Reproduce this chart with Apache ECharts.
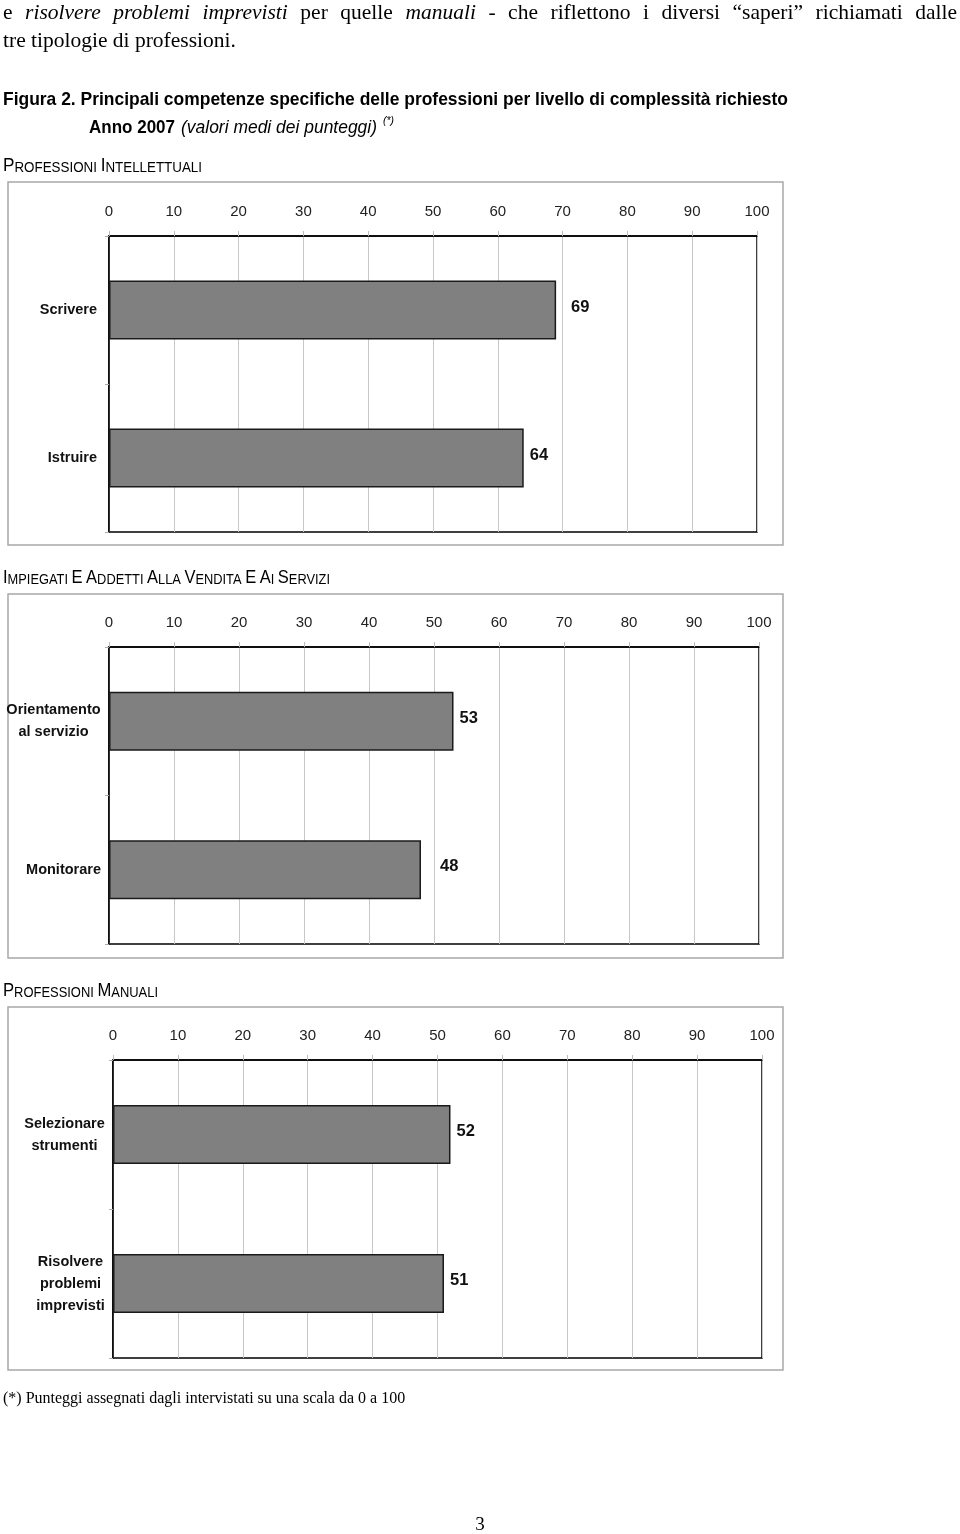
<!DOCTYPE html>
<html>
<head>
<meta charset="utf-8">
<script src="https://cdn.jsdelivr.net/npm/echarts@6/dist/echarts.min.js"></script>
<style>html,body{margin:0;padding:0;background:#fff}#c{width:960px;height:1534px}</style>
</head>
<body>
<div id="c"></div>
<script>
// ---- data ----
const cats1 = ['Scrivere', 'Istruire'];
const vals1 = [69, 64];
const cats2 = ['Orientamento\nal servizio', 'Monitorare'];
const vals2 = [53, 48];
const cats3 = ['Selezionare\nstrumenti', 'Risolvere\nproblemi\nimprevisti'];
const vals3 = [52, 51];
const sectionTitles = ['PROFESSIONI INTELLETTUALI', 'IMPIEGATI E ADDETTI ALLA VENDITA E AI SERVIZI', 'PROFESSIONI MANUALI'];

// ---- style ----
const SANS = "'Liberation Sans',Arial,sans-serif";
const SERIF = "'Liberation Serif','Times New Roman',serif";
const labelGap = [[15, 6], [6, 19], [6, 6]];

const ctx = document.createElement('canvas').getContext('2d');
function tw(text, font) { ctx.font = font; return ctx.measureText(text).width; }

const graphics = [];
// narrow text: Liberation Sans compressed horizontally to a target width
function narrowText(text, font, x, y, targetW) {
  const s = targetW / tw(text, font);
  graphics.push({type: 'text', x: x, y: y, scaleX: s, style: {x: 0, y: 0, text: text, font: font, fill: '#000', verticalAlign: 'middle'}});
}

// justified first body line
const line1 = [['e',0],['risolvere',1],['problemi',1],['imprevisti',1],['per',0],['quelle',0],['manuali',1],['-',0],['che',0],['riflettono',0],['i',0],['diversi',0],['\u201csaperi\u201d',0],['richiamati',0],['dalle',0]];
const BODY = 21.5;
const fontOf = it => (it ? 'italic ' : '') + BODY + 'px ' + SERIF;
const widths = line1.map(w => tw(w[0], fontOf(w[1])));
const total = widths.reduce((a, b) => a + b, 0);
const gap = (957 - 3 - total) / (line1.length - 1);
let x = 3;
line1.forEach((w, i) => {
  graphics.push({type: 'text', style: {x: x, y: 13, text: w[0], font: fontOf(w[1]), fill: '#000', verticalAlign: 'middle'}});
  x += widths[i] + gap;
});
graphics.push({type: 'text', style: {x: 3, y: 41, text: 'tre tipologie di professioni.', font: BODY + 'px ' + SERIF, fill: '#000', verticalAlign: 'middle'}});

narrowText('Figura 2. Principali competenze specifiche delle professioni per livello di complessit\u00e0 richiesto', 'bold 19px ' + SANS, 3, 100, 785);
narrowText('Anno 2007', 'bold 19px ' + SANS, 89, 128, 86);
narrowText('(valori medi dei punteggi)', 'italic 19px ' + SANS, 181, 128, 196);
narrowText('(*)', 'italic 11px ' + SANS, 383, 121, 11);

// small caps section headers
const BIG = 18, SMALL = 14;
function smallCapsWidth(s) {
  let w = 0;
  s.split(' ').forEach((wd, i) => {
    if (i > 0) w += tw(' ', SMALL + 'px ' + SANS);
    w += tw(wd[0], BIG + 'px ' + SANS) + tw(wd.slice(1), SMALL + 'px ' + SANS);
  });
  return w;
}
function smallCaps(s) {
  return s.split(' ').map(w => '{b|' + w[0] + '}' + (w.length > 1 ? '{s|' + w.slice(1) + '}' : '')).join('{s| }');
}
const secY = [166, 578, 991];
const secW = [199, 327, 155];
sectionTitles.forEach((t, i) => {
  graphics.push({type: 'text', x: 3, y: secY[i], scaleX: secW[i] / smallCapsWidth(t),
    style: {x: 0, y: 0, text: smallCaps(t), verticalAlign: 'middle', fill: '#000',
    rich: {b: {fontFamily: SANS, fontSize: BIG, fill: '#000', verticalAlign: 'bottom'}, s: {fontFamily: SANS, fontSize: SMALL, fill: '#000', verticalAlign: 'bottom'}}}});
});
// frames
[[8, 182, 775, 363], [8, 594, 775, 364], [8, 1007, 775, 363]].forEach(r => {
  graphics.push({type: 'rect', shape: {x: r[0], y: r[1], width: r[2], height: r[3]}, style: {fill: 'none', stroke: '#a8a8a8', lineWidth: 1.5}, z: 0});
});
graphics.push({type: 'text', style: {x: 3, y: 1399, text: '(*) Punteggi assegnati dagli intervistati su una scala da 0 a 100', font: '16px ' + SERIF, fill: '#000', verticalAlign: 'middle'}});
graphics.push({type: 'text', style: {x: 480, y: 1525, text: '3', font: '19px ' + SERIF, fill: '#000', align: 'center', verticalAlign: 'middle'}});

const CAT_SIZE = 14.5;
const LABEL_FONT = 'bold ' + CAT_SIZE + 'px ' + SANS;
function catLabel(cats, margin) {
  const rich = {};
  cats.forEach((c, i) => {
    const lines = c.split('\n');
    if (lines.length > 1) {
      const w = Math.max(...lines.map(l => tw(l, LABEL_FONT)));
      rich['c' + i] = {width: Math.ceil(w), align: 'center', fontFamily: SANS, fontWeight: 'bold', fontSize: CAT_SIZE, color: '#111', lineHeight: 22};
    }
  });
  return {
    margin: margin, fontFamily: SANS, fontWeight: 'bold', fontSize: CAT_SIZE, color: '#111', lineHeight: 22,
    formatter: (v, i) => { const ls = v.split('\n'); return ls.length > 1 ? ls.map(l => '{c' + i + '|' + l + '}').join('\n') : v; },
    rich: rich
  };
}

const grids = [
  {left: 109, top: 236, width: 648, height: 296},
  {left: 109, top: 647, width: 650, height: 297},
  {left: 113, top: 1060, width: 649, height: 298}
];
const allCats = [cats1, cats2, cats3];
const allVals = [vals1, vals2, vals3];
const margins = [12, 8, 8];

const option = {
  backgroundColor: '#fff',
  animation: false,
  graphic: graphics,
  grid: grids.map(g => Object.assign({show: true, borderColor: '#000', borderWidth: 1.5, backgroundColor: 'rgba(0,0,0,0)', containLabel: false, outerBoundsMode: 'none'}, g)),
  xAxis: grids.map((g, i) => ({
    gridIndex: i, type: 'value', position: 'top', min: 0, max: 100, interval: 10,
    axisLine: {show: true, lineStyle: {color: '#000', width: 1.5}},
    axisTick: {show: true, length: 5, lineStyle: {color: '#bbb'}},
    axisLabel: {fontFamily: SANS, fontSize: 15, color: '#222', margin: 17},
    splitLine: {show: true, lineStyle: {color: '#c8c8c8', width: 1}}
  })),
  yAxis: grids.map((g, i) => ({
    gridIndex: i, type: 'category', inverse: true, data: allCats[i],
    axisLine: {show: true, lineStyle: {color: '#000', width: 1.5}},
    axisTick: {show: true, length: 4, lineStyle: {color: '#aaa'}},
    axisLabel: catLabel(allCats[i], margins[i]),
    splitLine: {show: false}
  })),
  series: grids.map((g, i) => ({
    type: 'bar', xAxisIndex: i, yAxisIndex: i, barWidth: 59,
    data: allVals[i].map((v, j) => ({value: v, label: {distance: labelGap[i][j]}})),
    itemStyle: {color: '#808080', borderColor: '#1a1a1a', borderWidth: 1.5},
    label: {show: true, position: 'right', offset: [0, -3], fontFamily: SANS, fontWeight: 'bold', fontSize: 16.5, color: '#111'}
  }))
};
const chart = echarts.init(document.getElementById('c'), null, {renderer: 'canvas', width: 960, height: 1534});
chart.setOption(option);
</script>
</body>
</html>
